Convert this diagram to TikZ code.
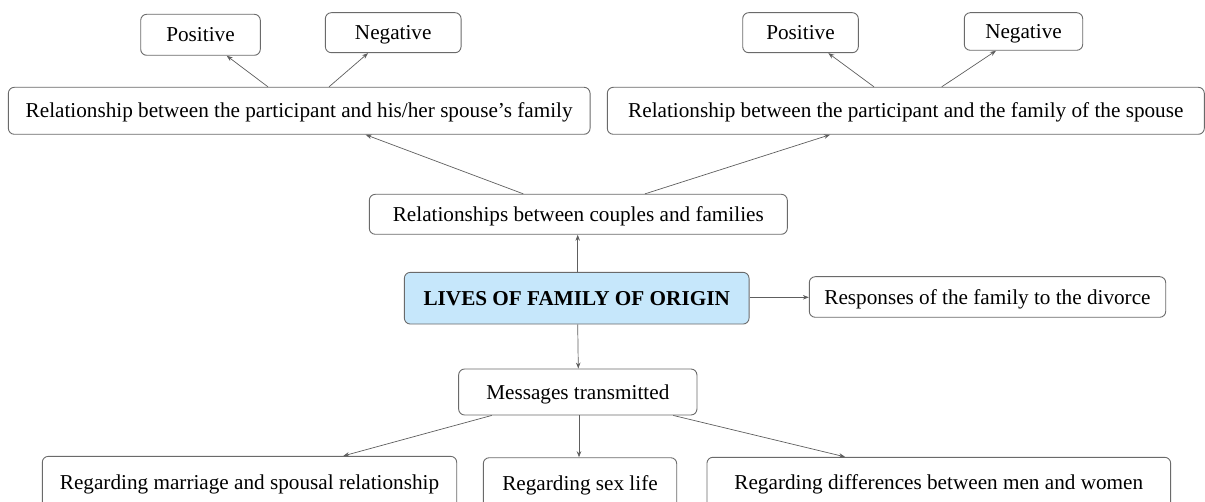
\documentclass[tikz,border=0pt]{standalone}
\usepackage{fontspec}
\setmainfont{Liberation Serif}
\usetikzlibrary{arrows.meta}
\definecolor{boxline}{HTML}{6A6A6A}
\definecolor{arrline}{HTML}{5E5E5E}
\definecolor{mainfill}{HTML}{C6E7FB}
\tikzset{
  box/.style={draw=boxline, line width=0.9pt, rounded corners=6pt, fill=white,
    inner sep=0pt, text height=15.9pt, text depth=1.7pt,
    font=\fontsize{21.2}{25}\selectfont, text=black},
  mainbox/.style={box, fill=mainfill, font=\fontsize{21.2}{25}\selectfont\bfseries},
  conn/.style={draw=arrline, line width=0.7pt, -{Stealth[length=6pt,width=4.5pt]}}
}
\begin{document}
\begin{tikzpicture}[x=1pt,y=-1pt]
\path[use as bounding box] (0,0) rectangle (1205,502);
\clip (0,0) rectangle (1205,502);
\node[box, minimum width=119.6pt, minimum height=41pt] (posL) at (200.5,34.8) {Positive};
\node[box, minimum width=135.7pt, minimum height=40pt] (negL) at (393.2,32.7) {Negative};
\node[box, minimum width=581.7pt, minimum height=47pt] (relL) at (299.2,110.8) {Relationship between the participant and his/her spouse’s family};
\node[box, minimum width=115.6pt, minimum height=40pt] (posR) at (800.5,32.7) {Positive};
\node[box, minimum width=118.4pt, minimum height=37.6pt] (negR) at (1023.5,31.5) {Negative};
\node[box, minimum width=597pt, minimum height=47pt] (relR) at (905.8,110.8) {Relationship between the participant and the family of the spouse};
\node[box, minimum width=418pt, minimum height=40pt] (couples) at (578.3,214.3) {Relationships between couples and families};
\node[mainbox, minimum width=344.7pt, minimum height=51.7pt] (main) at (576.7,298.2) {LIVES OF FAMILY OF ORIGIN};
\node[box, minimum width=356.4pt, minimum height=40.6pt] (resp) at (987.5,297) {Responses of the family to the divorce};
\node[box, minimum width=238.3pt, minimum height=46pt] (msg) at (577.8,392) {Messages transmitted};
\node[box, minimum width=414.4pt, minimum height=51.7pt] (b1) at (249.5,482.2) {Regarding marriage and spousal relationship};
\node[box, minimum width=193.4pt, minimum height=50.4pt] (b2) at (580,482.9) {Regarding sex life};
\node[box, minimum width=463.7pt, minimum height=50.8pt] (b3) at (938.8,482.7) {Regarding differences between men and women};
\path[conn] (relL.north -| 268,0) -- (posL.south -| 226.7,0);
\path[conn] (relL.north -| 329,0) -- (negL.south -| 368,0);
\path[conn] (relR.north -| 874,0) -- (posR.south -| 828.3,0);
\path[conn] (relR.north -| 941.7,0) -- (negR.south -| 996,0);
\path[conn] (couples.north -| 523.3,0) -- (relL.south -| 365.7,0);
\path[conn] (couples.north -| 645,0) -- (relR.south -| 830,0);
\path[conn] (main.north -| 577.7,0) -- (couples.south -| 577.7,0);
\path[conn] (main.east |- 0,297.3) -- (resp.west |- 0,297.3);
\path[conn] (main.south -| 577.7,0) -- (msg.north -| 578.3,0);
\path[conn] (msg.south -| 491.7,0) -- (b1.north -| 343.3,0);
\path[conn] (msg.south -| 579,0) -- (b2.north -| 579,0);
\path[conn] (msg.south -| 673.3,0) -- (b3.north -| 845,0);
\end{tikzpicture}
\end{document}
